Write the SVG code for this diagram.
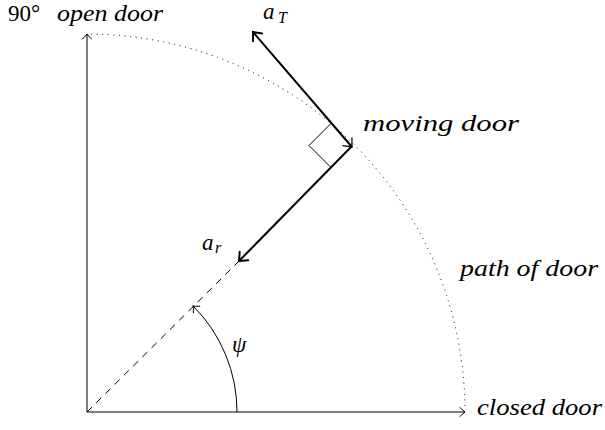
<svg xmlns="http://www.w3.org/2000/svg" width="605" height="430" viewBox="0 0 605 430">
<style>
.ln{stroke:#000;stroke-width:1;fill:none}
.thk{stroke:#000;stroke-width:2;fill:none}
text{fill:#000}
.it{font-style:italic;font-size:23px}
.rm{font-size:23px}
.sub{font-style:italic;font-size:16px}
</style>
<defs>
<marker id="a1" markerUnits="userSpaceOnUse" viewBox="-8 -6 10 12" refX="0" refY="0" markerWidth="10" markerHeight="12" orient="auto" overflow="visible">
<path d="M-5,-4.5 Q-1.5,-1 0,0 Q-1.5,1 -5,4.5" fill="none" stroke="#000" stroke-width="1" stroke-linecap="round"/>
</marker>
<marker id="a2" markerUnits="userSpaceOnUse" viewBox="-10 -8 12 16" refX="0" refY="0" markerWidth="12" markerHeight="16" orient="auto" overflow="visible">
<path d="M-7,-6 Q-2,-1.5 0,0 Q-2,1.5 -7,6" fill="none" stroke="#000" stroke-width="2" stroke-linecap="round"/>
</marker>
<marker id="a2s" markerUnits="userSpaceOnUse" viewBox="-10 -8 12 16" refX="0" refY="0" markerWidth="12" markerHeight="16" orient="auto-start-reverse" overflow="visible">
<path d="M-7,-6 Q-2,-1.5 0,0 Q-2,1.5 -7,6" fill="none" stroke="#000" stroke-width="1.2" stroke-linecap="round"/>
</marker>
</defs>
<g id="connectors">
<path id="axis-x" class="ln" d="M87,412 L465,412" marker-end="url(#a1)"/>
<path id="axis-y" class="ln" d="M87,412 L87,34" marker-end="url(#a1)"/>
<path id="door-path" d="M91,34.1 A378,378 0 0 1 465,408" fill="none" stroke="#000" stroke-width="1" stroke-dasharray="1 4.6"/>
<path id="radius" class="ln" d="M87,412 L238,262" stroke-dasharray="7 6"/>
<path id="angle" class="ln" d="M237,412 A150,150 0 0 0 193.07,305.93" marker-end="url(#a1)"/>
<path id="ar" class="thk" d="M352,146 L239,261" marker-end="url(#a2)"/>
<path id="aT" class="thk" d="M352,147 L253,32" marker-end="url(#a2)" marker-start="url(#a2s)"/>
<path id="right-angle" class="ln" d="M331.5,123 L309,145.5 L331,167.5"/>
</g>
<g font-family="Liberation Serif, serif">
<g id="open-door"><text class="rm" x="8" y="21">90°</text><text class="it" x="57" y="21" textLength="106" lengthAdjust="spacingAndGlyphs">open door</text></g>
<g id="aT-label"><text class="it" x="263" y="19">a</text><text class="sub" x="278" y="23">T</text></g>
<g id="ar-label"><text class="it" x="202" y="250">a</text><text class="sub" x="215" y="253">r</text></g>
<g id="psi-label"><text class="it" x="232" y="352">ψ</text></g>
<g id="moving-door"><text class="it" x="363" y="131" textLength="156" lengthAdjust="spacingAndGlyphs">moving door</text></g>
<g id="path-of-door"><text class="it" x="460" y="276" textLength="138" lengthAdjust="spacingAndGlyphs">path of door</text></g>
<g id="closed-door"><text class="it" x="477" y="415" textLength="125" lengthAdjust="spacingAndGlyphs">closed door</text></g>
</g>
</svg>
